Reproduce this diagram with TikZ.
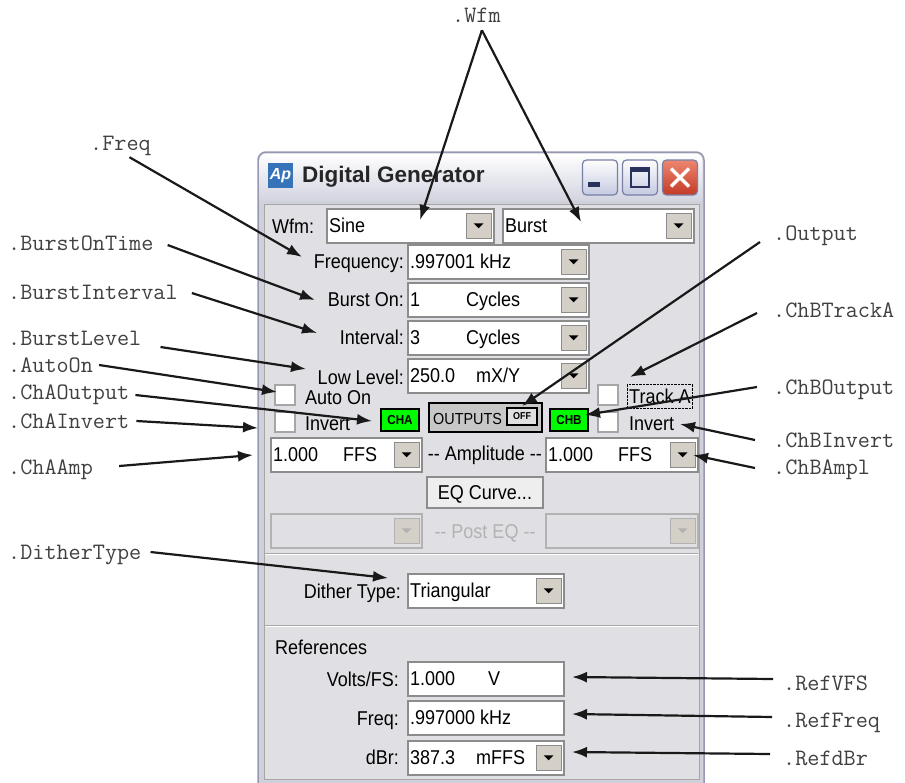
\documentclass[tikz,border=0pt]{standalone}
\usepackage{fontspec}
\usetikzlibrary{arrows.meta,positioning}

\newfontfamily\uifont[FakeStretch=0.9]{Liberation Sans}
\newfontfamily\titlefont{Liberation Sans}

\definecolor{panel}{RGB}{224,223,228}
\definecolor{winframe}{RGB}{208,208,218}
\definecolor{frameline}{RGB}{150,152,178}
\definecolor{btnface}{RGB}{212,208,200}
\definecolor{lcdgreen}{RGB}{0,250,0}
\definecolor{aplogo}{RGB}{55,115,185}
\definecolor{glyph}{RGB}{40,50,90}

\tikzset{
  callout/.style={font=\ttfamily\fontsize{23.5}{24}\selectfont, text=black!75, inner sep=0pt, text height=14pt, text depth=0pt},
  pointer/.style={-{Latex[length=15pt,width=11pt]}, line width=2.2pt, black!90},
  ui/.style={font=\uifont\fontsize{20}{20}\selectfont, inner sep=0pt, text height=14pt, text depth=0pt},
  field/.style={draw=black!45, line width=1.6pt, fill=white, inner sep=0pt, anchor=north west, minimum height=34pt},
  dropbtn/.style={draw=black!45, line width=1pt, fill=btnface, minimum width=25pt, minimum height=25pt, inner sep=0pt, anchor=east},
  chk/.style={draw=black!35, line width=1.5pt, fill=white, minimum size=20pt, inner sep=0pt},
  lcd/.style={draw=black, line width=2pt, fill=lcdgreen, minimum width=38pt, minimum height=22pt, inner sep=0pt, font=\uifont\bfseries\fontsize{13}{13}\selectfont},
  raised/.style={ui, draw=black!45, line width=1.2pt, fill={rgb,255:red,238;green,238;blue,238}},
  winbtn/.style={draw={rgb,255:red,120;green,128;blue,165}, line width=1.2pt, rounded corners=4pt, minimum width=35pt, minimum height=35pt, inner sep=0pt, top color=white, bottom color={rgb,255:red,196;green,202;blue,224}}
}

% combo box: name, left, top, width, text
\newcommand{\combo}[5]{%
  \node[field, minimum width=#4pt] (#1) at (#2,#3) {};
  \node[ui, anchor=west] (#1txt) at ([xshift=3pt]#1.west) {#5};
  \node[dropbtn] (#1btn) at ([xshift=-3pt]#1.east) {};
  \fill (#1btn.center) ++(-5pt,2.5pt) -- ++(10pt,0pt) -- ++(-5pt,-5pt) -- cycle;
}
% greyed combo box: name, left, top, width
\newcommand{\offcombo}[4]{%
  \node[field, fill=panel, draw=black!30, minimum width=#4pt] (#1) at (#2,#3) {};
  \node[dropbtn, draw=black!30] (#1btn) at ([xshift=-3pt]#1.east) {};
  \fill[black!30] (#1btn.center) ++(-5pt,2.5pt) -- ++(10pt,0pt) -- ++(-5pt,-5pt) -- cycle;
}
% edit box: name, left, top, width, text
\newcommand{\editbox}[5]{%
  \node[field, minimum width=#4pt] (#1) at (#2,#3) {};
  \node[ui, anchor=west] (#1txt) at ([xshift=3pt]#1.west) {#5};
}

\begin{document}
\begin{tikzpicture}[x=1pt,y=-1pt]
    \useasboundingbox (0,0) rectangle (905,782);

    % window frame and title bar
    \draw[frameline, fill=winframe, line width=1.5pt, rounded corners=8pt] (258,152) rectangle (704,800);
    \shade[top color=white, bottom color={rgb,255:red,196;green,198;blue,214}, rounded corners=7pt] (259.5,153.5) rectangle (702.5,215);
    \fill[winframe] (259.5,201) rectangle (702.5,799);
    \draw[black!35, fill=panel] (264,204) rectangle (699,779);

    \node[fill=aplogo, minimum size=25pt, inner sep=0pt, text=white, font=\titlefont\bfseries\itshape\fontsize{16}{16}\selectfont] (apIcon) at (280.5,175.5) {Ap};
    \node[anchor=west, inner sep=0pt, text=black!85, font=\titlefont\bfseries\fontsize{22.5}{23}\selectfont] (title) at (302,177) {Digital Generator};

    \node[winbtn] (minBtn) at (600,177.5) {};
    \node[winbtn] (maxBtn) at (640,177.5) {};
    \node[winbtn, top color={rgb,255:red,238;green,135;blue,112}, bottom color={rgb,255:red,196;green,58;blue,38}] (closeBtn) at (680,177.5) {};
    \fill[glyph] ([xshift=-12pt,yshift=-4.5pt]minBtn.center) rectangle ++(12pt,-5pt);
    \draw[glyph, line width=2pt] ([xshift=-9pt,yshift=10pt]maxBtn.center) rectangle ([xshift=9pt,yshift=-9pt]maxBtn.center);
    \fill[glyph] ([xshift=-9pt,yshift=10pt]maxBtn.center) rectangle ([xshift=9pt,yshift=6pt]maxBtn.center);
    \draw[white, line width=3.5pt] ([shift={(-9pt,9pt)}]closeBtn.center) -- ([shift={(9pt,-9pt)}]closeBtn.center);
    \draw[white, line width=3.5pt] ([shift={(-9pt,-9pt)}]closeBtn.center) -- ([shift={(9pt,9pt)}]closeBtn.center);

    % generator controls
    \node[ui, anchor=west] (wfmLabel) at (272,226) {Wfm:};
    \combo{sine}{326}{208}{167}{Sine}
    \combo{burst}{502}{208}{191}{Burst}
    \node[ui, anchor=east] (freqLabel) at (404,261) {Frequency:};
    \combo{freq}{407}{244}{181}{.997001 kHz}
    \node[ui, anchor=east] (burstOnLabel) at (404,299) {Burst On:};
    \combo{burstOn}{407}{282}{181}{\makebox[56pt][l]{1}Cycles}
    \node[ui, anchor=east] (intervalLabel) at (404,337) {Interval:};
    \combo{interval}{407}{320}{181}{\makebox[56pt][l]{3}Cycles}
    \node[ui, anchor=east] (lowLabel) at (404,377) {Low Level:};
    \combo{low}{407}{358}{181}{\makebox[66pt][l]{250.0}mX/Y}

    \node[chk] (autoOnBox) at (285,395) {};
    \node[ui, anchor=west] (autoOnText) at (305,397) {Auto On};
    \node[chk] (invABox) at (285,422) {};
    \node[ui, anchor=west] (invAText) at (305,423) {Invert};
    \node[lcd] (chA) at (400,420) {CHA};
    \node[draw=black, line width=2pt, fill=black!22, minimum width=113pt, minimum height=29pt, inner sep=0pt] (outputs) at (485.5,417.5) {};
    \node[ui, anchor=west, font=\uifont\fontsize{16}{16}\selectfont] (outputsText) at (433,417) {OUTPUTS};
    \node[draw=black, line width=1.5pt, fill=black!12, minimum width=30pt, minimum height=17pt, inner sep=0pt, font=\uifont\bfseries\fontsize{10}{10}\selectfont] (offBox) at (522,416.5) {OFF};
    \node[lcd] (chB) at (569,420) {CHB};
    \node[chk] (trackBox) at (608,395) {};
    \node[ui, anchor=west, draw, densely dotted, inner xsep=2pt, inner ysep=5pt] (trackText) at (627,396) {Track A};
    \node[chk] (invBBox) at (608,422) {};
    \node[ui, anchor=west] (invBText) at (629,423) {Invert};

    \combo{ampA}{270}{437}{151}{\makebox[70pt][l]{1.000}FFS}
    \node[ui] (ampText) at (485,453) {-{}- Amplitude -{}-};
    \combo{ampB}{545}{437}{152}{\makebox[70pt][l]{1.000}FFS}
    \node[raised, minimum width=116pt, minimum height=31pt] (eqCurve) at (485,492.5) {EQ Curve...};
    \offcombo{postA}{270}{513}{151}
    \node[ui, text=black!30] (postText) at (485,531) {-{}- Post EQ -{}-};
    \offcombo{postB}{545}{513}{152}

    \draw[black!35] (265,553) -- (698,553);
    \draw[white, line width=1.2pt] (265,554.5) -- (698,554.5);
    \node[ui, anchor=east] (ditherLabel) at (401,591) {Dither Type:};
    \combo{dither}{407}{573}{156}{Triangular}
    \draw[black!35] (265,625) -- (698,625);
    \draw[white, line width=1.2pt] (265,626.5) -- (698,626.5);

    % references
    \node[ui, anchor=west] (refHead) at (275,647) {References};
    \node[ui, anchor=east] (voltsLabel) at (399,679) {Volts/FS:};
    \editbox{refVolts}{407}{661}{156}{\makebox[78pt][l]{1.000}V}
    \node[ui, anchor=east] (refFreqLabel) at (399,718) {Freq:};
    \editbox{refFreq}{407}{700}{156}{.997000 kHz}
    \node[ui, anchor=east] (dbrLabel) at (399,757) {dBr:};
    \combo{refDbr}{407}{740}{156}{\makebox[66pt][l]{387.3}mFFS}

    % callout names
    \node[callout, anchor=west] (wfmLbl) at (452,15) {.Wfm};
    \node[callout, anchor=west] (freqLbl) at (90,143) {.Freq};
    \node[callout, anchor=west] (burstOnTimeLbl) at (8,243) {.BurstOnTime};
    \node[callout, anchor=west] (burstIntervalLbl) at (8,292) {.BurstInterval};
    \node[callout, anchor=west] (burstLevelLbl) at (8,338) {.BurstLevel};
    \node[callout, anchor=west] (autoOnLbl) at (8,365) {.AutoOn};
    \node[callout, anchor=west] (chAOutputLbl) at (8,392) {.ChAOutput};
    \node[callout, anchor=west] (chAInvertLbl) at (8,421) {.ChAInvert};
    \node[callout, anchor=west] (chAAmpLbl) at (8,467) {.ChAAmp};
    \node[callout, anchor=west] (ditherTypeLbl) at (8,552) {.DitherType};
    \node[callout, anchor=west] (outputLbl) at (773,233) {.Output};
    \node[callout, anchor=west] (chBTrackALbl) at (773,310) {.ChBTrackA};
    \node[callout, anchor=west] (chBOutputLbl) at (773,387) {.ChBOutput};
    \node[callout, anchor=west] (chBInvertLbl) at (773,440) {.ChBInvert};
    \node[callout, anchor=west] (chBAmplLbl) at (773,467) {.ChBAmpl};
    \node[callout, anchor=west] (refVFSLbl) at (783,683) {.RefVFS};
    \node[callout, anchor=west] (refFreqLbl) at (783,720) {.RefFreq};
    \node[callout, anchor=west] (refdBrLbl) at (783,758) {.RefdBr};

    % arrow tips
    \coordinate (sineTip) at (420,220);
    \coordinate (burstTip) at (581,222);
    \coordinate (freqTip) at (302,257);
    \coordinate (burstOnTip) at (315,300);
    \coordinate (intervalTip) at (317,333);
    \coordinate (lowTip) at (306,369);
    \coordinate (autoOnTip) at (277,392);
    \coordinate (chATip) at (372,421);
    \coordinate (invATip) at (258,428);
    \coordinate (ampATip) at (253,455);
    \coordinate (ditherTip) at (388,578);
    \coordinate (outputsTip) at (522,406);
    \coordinate (trackTip) at (630,377);
    \coordinate (chBTip) at (585,415);
    \coordinate (invBTip) at (680,424);
    \coordinate (ampBTip) at (693,455);
    \coordinate (refVoltsTip) at (572,677);
    \coordinate (refFreqTip) at (572,714);
    \coordinate (refDbrTip) at (572,752);

    % arrows
    \draw[pointer] ([shift={(5.5pt,-8pt)}]wfmLbl.south) -- (sineTip);
    \draw[pointer] ([shift={(5.5pt,-8pt)}]wfmLbl.south) -- (burstTip);
    \draw[pointer] ([shift={(9pt,-7pt)}]freqLbl.south) -- (freqTip);
    \draw[pointer] ([xshift=14pt,yshift=-2pt]burstOnTimeLbl.east) -- (burstOnTip);
    \draw[pointer] ([xshift=14pt,yshift=-1pt]burstIntervalLbl.east) -- (intervalTip);
    \draw[pointer] ([xshift=19pt,yshift=-9pt]burstLevelLbl.east) -- (lowTip);
    \draw[pointer] ([xshift=6pt]autoOnLbl.east) -- (autoOnTip);
    \draw[pointer] ([xshift=6pt,yshift=-3pt]chAOutputLbl.east) -- (chATip);
    \draw[pointer] ([xshift=7pt]chAInvertLbl.east) -- (invATip);
    \draw[pointer] ([xshift=26pt,yshift=1pt]chAAmpLbl.east) -- (ampATip);
    \draw[pointer] ([xshift=9pt]ditherTypeLbl.east) -- (ditherTip);
    \draw[pointer] ([xshift=-13pt,yshift=-9pt]outputLbl.west) -- (outputsTip);
    \draw[pointer] ([xshift=-16pt,yshift=-3pt]chBTrackALbl.west) -- (trackTip);
    \draw[pointer] ([xshift=-16pt]chBOutputLbl.west) -- (chBTip);
    \draw[pointer] ([xshift=-18pt]chBInvertLbl.west) -- (invBTip);
    \draw[pointer] ([xshift=-18pt,yshift=-1pt]chBAmplLbl.west) -- (ampBTip);
    \draw[pointer] ([xshift=-10pt,yshift=4pt]refVFSLbl.west) -- (refVoltsTip);
    \draw[pointer] ([xshift=-11pt,yshift=3pt]refFreqLbl.west) -- (refFreqTip);
    \draw[pointer] ([xshift=-13pt,yshift=4pt]refdBrLbl.west) -- (refDbrTip);

\end{tikzpicture}
\end{document}
